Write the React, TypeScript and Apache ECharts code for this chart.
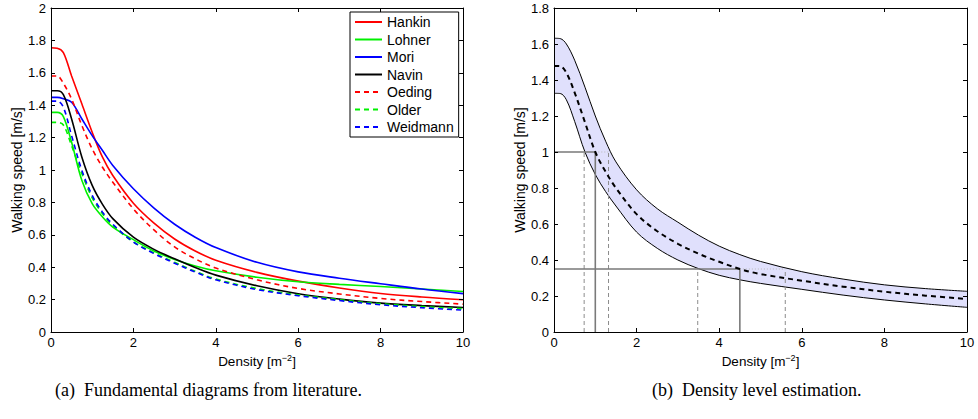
import React, { useEffect, useRef } from "react";
import * as echarts from "echarts";

// ---------- Data: (a) fundamental diagrams from literature ----------
const densityL = [0, 0.15, 0.3, 0.5, 0.75, 1, 1.25, 1.5, 2, 2.5, 3, 3.5, 4, 5, 6, 7, 8, 9, 10];
const hankin = [1.755, 1.752, 1.725, 1.58, 1.407, 1.233, 1.079, 0.966, 0.795, 0.672, 0.574, 0.5, 0.443, 0.368, 0.314, 0.272, 0.238, 0.216, 0.199];
const lohner = [1.356, 1.356, 1.33, 1.171, 0.935, 0.792, 0.71, 0.648, 0.57, 0.5, 0.448, 0.408, 0.378, 0.338, 0.31, 0.294, 0.281, 0.265, 0.25];
const mori = [1.448, 1.448, 1.44, 1.418, 1.315, 1.212, 1.12, 1.028, 0.884, 0.765, 0.665, 0.585, 0.521, 0.43, 0.371, 0.332, 0.298, 0.265, 0.237];
const navin = [1.489, 1.489, 1.465, 1.315, 1.079, 0.905, 0.788, 0.7, 0.585, 0.51, 0.452, 0.398, 0.351, 0.285, 0.236, 0.203, 0.178, 0.163, 0.151];
const oeding = [1.58, 1.58, 1.535, 1.438, 1.274, 1.13, 1.017, 0.925, 0.76, 0.63, 0.525, 0.452, 0.395, 0.322, 0.269, 0.235, 0.207, 0.188, 0.172];
const older = [1.294, 1.294, 1.278, 1.15, 0.977, 0.828, 0.73, 0.658, 0.556, 0.488, 0.43, 0.375, 0.327, 0.268, 0.229, 0.199, 0.174, 0.157, 0.144];
const weidmann = [1.425, 1.425, 1.387, 1.212, 0.997, 0.843, 0.74, 0.665, 0.556, 0.484, 0.425, 0.37, 0.322, 0.262, 0.224, 0.194, 0.168, 0.15, 0.135];

const modelNames = ["Hankin", "Lohner", "Mori", "Navin", "Oeding", "Older", "Weidmann"];
const modelValues = [hankin, lohner, mori, navin, oeding, older, weidmann];
const modelColors = ["#ff0000", "#00f000", "#0000ff", "#000000", "#ff0000", "#00f000", "#0000ff"];
const modelDashed = [false, false, false, false, true, true, true];

// ---------- Data: (b) density level estimation ----------
const densityR = [0, 0.15, 0.3, 0.5, 0.75, 1, 1.25, 1.5, 2, 2.5, 3, 3.5, 4, 4.5, 5, 6, 7, 8, 9, 10];
const bandUpper = [1.632, 1.63, 1.6, 1.51, 1.36, 1.2, 1.06, 0.945, 0.79, 0.685, 0.61, 0.538, 0.477, 0.43, 0.392, 0.335, 0.294, 0.262, 0.241, 0.226];
const bandMean = [1.478, 1.477, 1.44, 1.33, 1.165, 1.0, 0.89, 0.8, 0.655, 0.56, 0.49, 0.435, 0.39, 0.35, 0.322, 0.285, 0.252, 0.224, 0.202, 0.183];
const bandLower = [1.326, 1.325, 1.29, 1.17, 1.0, 0.875, 0.78, 0.7, 0.555, 0.465, 0.4, 0.352, 0.315, 0.29, 0.27, 0.237, 0.205, 0.178, 0.156, 0.137];

const estSpeed = [1.0, 0.35];
const estDensity = [1.0, 4.5];
const estDensityLow = [0.73, 3.48];
const estDensityHigh = [1.32, 5.6];

const captionA = "(a)  Fundamental diagrams from literature.";
const captionB = "(b)  Density level estimation.";

const FONT = "'Liberation Sans', Arial, Helvetica, sans-serif";
const SMOOTH = 0.34;

function pairs(xs: number[], ys: number[]) {
  return xs.map((x, i) => [x, ys[i]]);
}

function boxAxes(gridIndex: number, yMax: number) {
  const common = {
    gridIndex,
    type: "value" as const,
    z: 5,
    axisLine: { show: true, onZero: false, lineStyle: { color: "#000", width: 1 } },
    axisTick: { show: true, inside: true, length: 4, lineStyle: { color: "#000", width: 1 } },
    splitLine: { show: false },
  };
  const xAxes = [
    {
      ...common,
      position: "bottom",
      min: 0,
      max: 10,
      interval: 2,
      axisLabel: { show: true, color: "#000", fontSize: 13, fontFamily: FONT, margin: 4 },
      name: "Density [m{sup|−2}]",
      nameLocation: "middle",
      nameGap: 18,
      nameTextStyle: {
        color: "#000",
        fontSize: 13.5,
        fontFamily: FONT,
        rich: { sup: { fontSize: 9, fontFamily: FONT, color: "#000", padding: [0, 0, 7, 0] } },
      },
    },
    { ...common, position: "top", min: 0, max: 10, interval: 2, axisLabel: { show: false } },
  ];
  const yAxes = [
    {
      ...common,
      position: "left",
      min: 0,
      max: yMax,
      interval: 0.2,
      axisLabel: { show: true, color: "#000", fontSize: 13, fontFamily: FONT, margin: 5 },
      name: "Walking speed [m/s]",
      nameLocation: "middle",
      nameGap: 27,
      nameRotate: 90,
      nameTextStyle: { color: "#000", fontSize: 14, fontFamily: FONT },
    },
    { ...common, position: "right", min: 0, max: yMax, interval: 0.2, axisLabel: { show: false } },
  ];
  return { xAxes, yAxes };
}

export default function App() {
  const ref = useRef<HTMLDivElement>(null);

  useEffect(() => {
    document.body.style.margin = "0";
    if (!ref.current) return;
    const chart = echarts.init(ref.current, undefined, { renderer: "svg" });

    const a = boxAxes(0, 2);
    const b = boxAxes(1, 1.8);

    const series: any[] = [];
    modelNames.forEach((name, i) => {
      series.push({
        name,
        type: "line",
        xAxisIndex: 0,
        yAxisIndex: 0,
        data: pairs(densityL, modelValues[i]),
        smooth: SMOOTH,
        symbol: "none",
        showSymbol: false,
        itemStyle: { color: modelColors[i] },
        lineStyle: { color: modelColors[i], width: 1.6, type: modelDashed[i] ? [5, 4] : "solid" },
        z: 2,
      });
    });

    // band fill: upper area (lavender) then lower area (white) on top
    series.push({
      name: "Upper bound",
      type: "line",
      xAxisIndex: 2,
      yAxisIndex: 2,
      data: pairs(densityR, bandUpper),
      smooth: SMOOTH,
      symbol: "none",
      lineStyle: { color: "#000", width: 1 },
      areaStyle: { color: "rgb(224,224,252)", opacity: 1, origin: "start" },
      z: 1,
    });
    series.push({
      name: "Lower bound",
      type: "line",
      xAxisIndex: 2,
      yAxisIndex: 2,
      data: pairs(densityR, bandLower),
      smooth: SMOOTH,
      symbol: "none",
      lineStyle: { color: "#000", width: 1 },
      areaStyle: { color: "#ffffff", opacity: 1, origin: "start" },
      z: 1,
    });

    estSpeed.forEach((s, i) => {
      const d = estDensity[i];
      const lo = estDensityLow[i];
      const hi = estDensityHigh[i];
      series.push({
        name: "Estimate " + i,
        type: "line",
        xAxisIndex: 2,
        yAxisIndex: 2,
        data: [[0, s], [d, s], [d, 0]],
        symbol: "none",
        lineStyle: { color: "#7a7a7a", width: 1.6 },
        z: 2,
      });
      series.push({
        name: "Low " + i,
        type: "line",
        xAxisIndex: 2,
        yAxisIndex: 2,
        data: [[lo, 0], [lo, s]],
        symbol: "none",
        lineStyle: { color: "#8c8c8c", width: 1, type: [4, 3] },
        z: 2,
      });
      series.push({
        name: "High " + i,
        type: "line",
        xAxisIndex: 2,
        yAxisIndex: 2,
        data: [[hi, 0], [hi, s]],
        symbol: "none",
        lineStyle: { color: "#8c8c8c", width: 1, type: [4, 3] },
        z: 2,
      });
      series.push({
        name: "Span " + i,
        type: "line",
        xAxisIndex: 2,
        yAxisIndex: 2,
        data: [[d, s], [hi, s]],
        symbol: "none",
        lineStyle: { color: "#b8b8b8", width: 1, type: [1, 2] },
        z: 2,
      });
    });

    series.push({
      name: "Mean",
      type: "line",
      xAxisIndex: 2,
      yAxisIndex: 2,
      data: pairs(densityR, bandMean),
      smooth: SMOOTH,
      symbol: "none",
      lineStyle: { color: "#000", width: 2, type: [5, 4] },
      z: 3,
    });

    const option: any = {
      animation: false,
      backgroundColor: "#fff",
      grid: [
        { left: 51, top: 8, width: 412, height: 324 },
        { left: 554, top: 8, width: 413, height: 324 },
      ],
      xAxis: [...a.xAxes, ...b.xAxes],
      yAxis: [...a.yAxes, ...b.yAxes],
      legend: {
        data: modelNames,
        orient: "vertical",
        left: 350,
        top: 12,
        itemWidth: 27,
        itemHeight: 14,
        itemGap: 3.5,
        padding: [3, 5, 3, 4],
        borderColor: "#000",
        borderWidth: 1,
        backgroundColor: "#fff",
        selectedMode: false,
        itemStyle: { opacity: 0 },
        textStyle: { color: "#000", fontSize: 14, fontFamily: FONT, lineHeight: 14 },
        z: 10,
      },
      graphic: [
        {
          type: "text",
          left: 55,
          top: 381,
          style: { text: captionA, font: "18px 'Liberation Serif', 'Times New Roman', serif", fill: "#000" },
        },
        {
          type: "text",
          left: 652,
          top: 381,
          style: { text: captionB, font: "18px 'Liberation Serif', 'Times New Roman', serif", fill: "#000" },
        },
      ],
      series,
    };

    chart.setOption(option);
    return () => chart.dispose();
  }, []);

  return (
    <div
      ref={ref}
      style={{ position: "fixed", left: 0, top: 0, width: 978, height: 419, background: "#fff" }}
    />
  );
}
